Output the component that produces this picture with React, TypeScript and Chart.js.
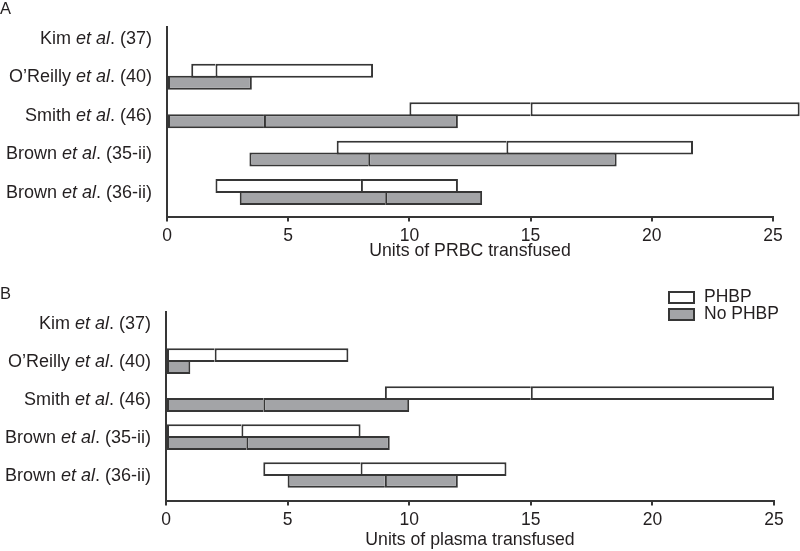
import { useEffect, useRef } from "react";
import { Chart, registerables } from "chart.js";

Chart.register(...registerables);

// ---------- data ----------
const categories = [
  "Kim et al. (37)",
  "O’Reilly et al. (40)",
  "Smith et al. (46)",
  "Brown et al. (35-ii)",
  "Brown et al. (36-ii)",
];
const seriesNames = ["PHBP", "No PHBP"];
const xTickStep = 5;
const xMin = 0;
const xMax = 25;

// Panel A: units of PRBC transfused (low, median, high)
const prbcPhbpLow = [null, 1, 10, 7, 2];
const prbcPhbpMedian = [null, 2, 15, 14, 8];
const prbcPhbpHigh = [null, 8.5, 26.1, 21.7, 12];
const prbcNoLow = [null, 0, 0, 3.4, 3];
const prbcNoMedian = [null, null, 4, 8.3, 9];
const prbcNoHigh = [null, 3.5, 12, 18.55, 13];

// Panel B: units of plasma transfused (low, median, high)
const plasmaPhbpLow = [null, 0, 9, 0, 4];
const plasmaPhbpMedian = [null, 2, 15, 3.1, 8];
const plasmaPhbpHigh = [null, 7.5, 25, 8, 14];
const plasmaNoLow = [null, 0, 0, 0, 5];
const plasmaNoMedian = [null, null, 4, 3.3, 9];
const plasmaNoHigh = [null, 1, 10, 9.2, 12];

// ---------- style ----------
const FONT = "'Liberation Sans', Arial, Helvetica, sans-serif";
const INK = "#231f20";
const LINE = "#363636";
const FILLS = ["#ffffff", "#a3a4a7"];

type Num = number | null;

function segs(low: Num[], med: Num[], high: Num[], part: "lo" | "hi") {
  const out: { y: number; x: [number, number] }[] = [];
  categories.forEach((_, i) => {
    const l = low[i];
    const h = high[i];
    if (l == null || h == null) return;
    const m = med[i];
    if (part === "lo") {
      if (m == null) return;
      out.push({ y: i, x: [l, m] });
    } else {
      out.push({ y: i, x: [m == null ? l : m, h] });
    }
  });
  return out;
}

function makeDatasets(groups: [Num[], Num[], Num[]][]) {
  const ds: any[] = [];
  groups.forEach((g, gi) => {
    (["lo", "hi"] as const).forEach((part) => {
      ds.push({
        label: seriesNames[gi],
        data: segs(g[0], g[1], g[2], part),
        backgroundColor: FILLS[gi],
        borderColor: LINE,
        borderWidth:
          part === "lo" ? { top: 2, bottom: 2, left: 2, right: 0 } : 2,
        borderSkipped: false,
        inflateAmount: 0,
        stack: "s" + gi,
        clip: false,
        categoryPercentage: 0.623,
        barPercentage: 1.1667,
      });
    });
  });
  return ds;
}

function customPlugin(letter: string, letterY: number, showLegend: boolean) {
  return {
    id: "custom" + letter,
    afterDraw(chart: any) {
      const ctx = chart.ctx as CanvasRenderingContext2D;
      const yScale = chart.scales.y;
      const area = chart.chartArea;
      ctx.save();
      ctx.fillStyle = INK;
      ctx.textBaseline = "middle";
      ctx.textAlign = "right";
      categories.forEach((cat, i) => {
        const py = yScale.getPixelForValue(i) + 0.5;
        const idx = cat.indexOf("et al");
        const parts: [string, boolean][] =
          idx < 0
            ? [[cat, false]]
            : [
                [cat.slice(0, idx), false],
                ["et al", true],
                [cat.slice(idx + 5), false],
              ];
        let x = area.left - 15;
        for (let k = parts.length - 1; k >= 0; k--) {
          const [t, it] = parts[k];
          ctx.font = `${it ? "italic " : ""}18px ${FONT}`;
          ctx.fillText(t, x, py);
          x -= ctx.measureText(t).width;
        }
      });
      // panel letter
      ctx.textAlign = "left";
      ctx.textBaseline = "alphabetic";
      ctx.font = `16.5px ${FONT}`;
      ctx.fillText(letter, 0, letterY);
      // legend
      if (showLegend) {
        ctx.lineWidth = 2;
        ctx.strokeStyle = LINE;
        seriesNames.forEach((name, i) => {
          const by = 17 + i * 17;
          ctx.fillStyle = FILLS[i];
          ctx.fillRect(669, by, 25, 11);
          ctx.strokeRect(669, by, 25, 11);
          ctx.fillStyle = INK;
          ctx.textBaseline = "middle";
          ctx.font = `17.5px ${FONT}`;
          ctx.fillText(name, 704, by + 5.5);
        });
      }
      ctx.restore();
    },
  };
}

function makeConfig(
  datasets: any[],
  title: string,
  opts: {
    top: number;
    right: number;
    yWidth: number;
    xHeight: number;
    tickPad: number;
    titlePad: number;
    yMax: number;
  },
  plugin: any
): any {
  return {
    type: "bar",
    data: { datasets },
    options: {
      indexAxis: "y",
      responsive: false,
      animation: false,
      devicePixelRatio: 1,
      layout: { padding: { top: opts.top, right: opts.right, left: 0, bottom: 0 } },
      plugins: { legend: { display: false }, tooltip: { enabled: false } },
      scales: {
        x: {
          type: "linear",
          min: xMin,
          max: xMax,
          stacked: false,
          ticks: {
            stepSize: xTickStep,
            color: INK,
            font: { family: FONT, size: 17.5 },
            padding: opts.tickPad,
            maxRotation: 0,
          },
          grid: {
            drawOnChartArea: false,
            drawTicks: true,
            tickLength: 5,
            color: LINE,
            lineWidth: 2,
          },
          border: { display: true, color: LINE, width: 2 },
          title: {
            display: true,
            text: title,
            color: INK,
            font: { family: FONT, size: 17.7 },
            padding: { top: 0, bottom: opts.titlePad },
          },
          afterFit: (s: any) => {
            s.height = opts.xHeight;
          },
        },
        y: {
          type: "linear",
          min: -0.3,
          max: opts.yMax,
          reverse: true,
          offset: false,
          bounds: "data",
          ticks: { display: false },
          grid: { display: false },
          border: { display: true, color: LINE, width: 2, z: 1 },
          afterBuildTicks: (s: any) => {
            s.ticks = categories.map((_, i) => ({ value: i }));
          },
          afterFit: (s: any) => {
            s.width = opts.yWidth;
          },
        },
      },
    },
    plugins: [plugin],
  };
}

export default function App() {
  const refA = useRef<HTMLCanvasElement>(null);
  const refB = useRef<HTMLCanvasElement>(null);

  useEffect(() => {
    const chartA = new Chart(
      refA.current as HTMLCanvasElement,
      makeConfig(
        makeDatasets([
          [prbcPhbpLow, prbcPhbpMedian, prbcPhbpHigh],
          [prbcNoLow, prbcNoMedian, prbcNoHigh],
        ]),
        "Units of PRBC transfused",
        { top: 26.7, right: 27, yWidth: 167, xHeight: 58.5, tickPad: 4.5, titlePad: 12.9, yMax: 4.635 },
        customPlugin("A", 13.5, false)
      )
    );
    const chartB = new Chart(
      refB.current as HTMLCanvasElement,
      makeConfig(
        makeDatasets([
          [plasmaPhbpLow, plasmaPhbpMedian, plasmaPhbpHigh],
          [plasmaNoLow, plasmaNoMedian, plasmaNoHigh],
        ]),
        "Units of plasma transfused",
        { top: 36.7, right: 26, yWidth: 166, xHeight: 50.5, tickPad: 4, titlePad: 0, yMax: 4.67 },
        customPlugin("B", 23.5, true)
      )
    );
    return () => {
      chartA.destroy();
      chartB.destroy();
    };
  }, []);

  return (
    <div
      style={{
        position: "absolute",
        left: 0,
        top: 0,
        width: 800,
        height: 551,
        background: "#ffffff",
      }}
    >
      <canvas ref={refA} width={800} height={275} style={{ display: "block" }} />
      <canvas ref={refB} width={800} height={276} style={{ display: "block" }} />
    </div>
  );
}
